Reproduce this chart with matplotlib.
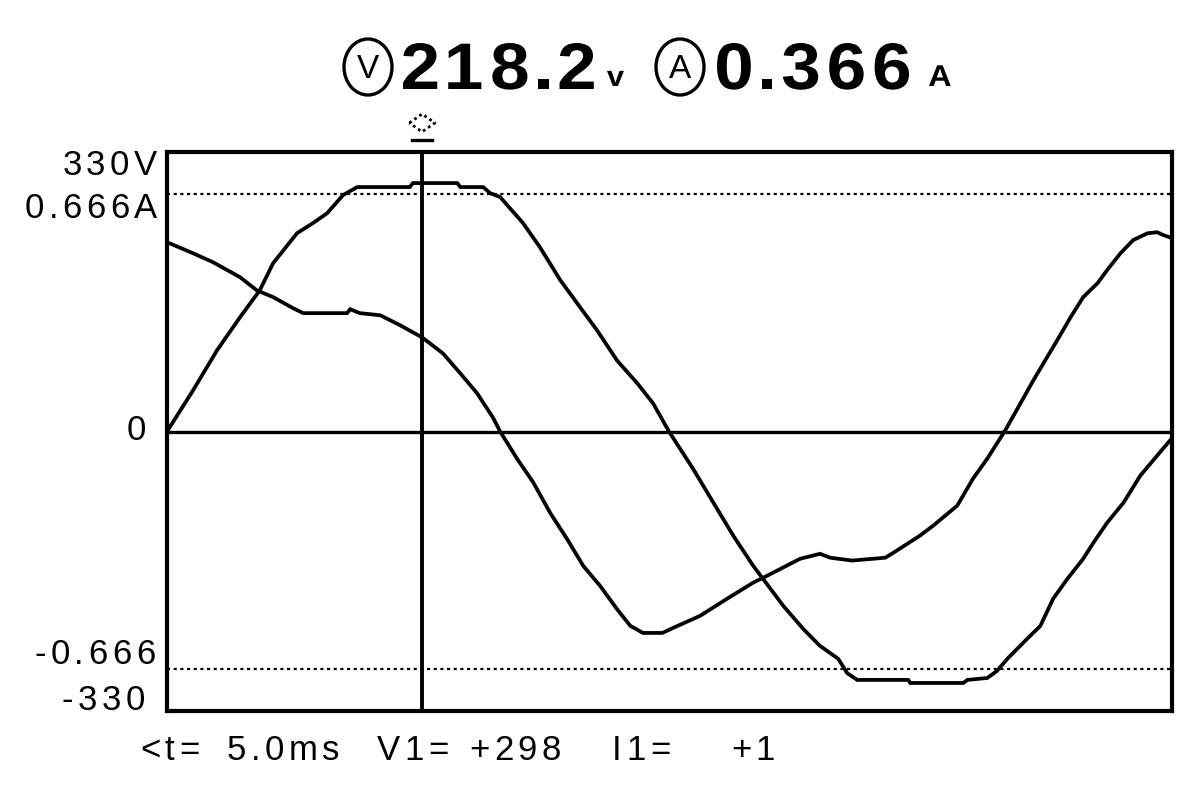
import matplotlib.pyplot as plt
from matplotlib.patches import Ellipse, PathPatch
from matplotlib.textpath import TextPath
from matplotlib.font_manager import FontProperties
from matplotlib.transforms import Affine2D, IdentityTransform, blended_transform_factory

# ---- scope readings (time in ms) ----
t_volt = [0.0, 0.51, 0.98, 1.43, 1.82, 2.08, 2.55, 2.86, 3.14, 3.45, 3.73, 4.76, 4.82,
          5.69, 5.75, 6.20, 6.33, 6.53, 6.98, 7.31, 7.71, 8.04, 8.43, 8.82, 9.22, 9.53,
          9.84, 10.31, 10.71, 11.10, 11.49, 12.08, 12.47, 12.80, 13.16, 13.33, 13.53,
          14.53, 14.57, 15.61, 15.69, 16.08, 16.27, 16.47, 16.86, 17.12, 17.37, 17.65,
          17.96, 18.16, 18.43, 18.75, 19.08, 19.41, 19.71]
volts = [0, 48.5, 95.8, 134.8, 166.8, 198.7, 234.2, 246.0, 257.8, 279.1, 288.6, 288.6, 293.3,
         293.3, 288.6, 288.6, 281.5, 276.8, 246.0, 217.6, 178.6, 151.4, 119.5, 84.0, 56.8, 33.1,
         0, -43.8, -84.0, -123.0, -158.5, -205.8, -233.0, -253.1, -268.5, -285.1, -293.3,
         -293.3, -296.9, -296.9, -293.3, -291.0, -282.7, -268.5, -244.8, -229.5, -197.5, -173.9,
         -150.2, -131.3, -107.6, -84.0, -52.0, -28.4, -7.1]

t_amp = [0.0, 0.51, 0.90, 1.43, 1.76, 2.08, 2.47, 2.67, 3.53, 3.59, 3.78, 4.18, 4.57, 5.00,
         5.41, 5.75, 6.08, 6.39, 6.53, 6.86, 7.18, 7.51, 7.84, 8.16, 8.49, 8.82, 9.08, 9.33,
         9.71, 9.92, 10.45, 10.98, 11.49, 11.69, 12.41, 12.80, 13.00, 13.43, 14.08, 14.24,
         14.76, 15.02, 15.49, 15.80, 16.08, 16.43, 16.73, 16.98, 17.25, 17.45, 17.71, 17.96,
         18.24, 18.43, 18.69, 18.94, 19.22, 19.41, 19.53, 19.71]
amps = [0.531, 0.500, 0.475, 0.433, 0.396, 0.377, 0.346, 0.332, 0.332, 0.343, 0.332, 0.326,
        0.298, 0.264, 0.219, 0.163, 0.107, 0.039, 0.0, -0.076, -0.143, -0.228, -0.301, -0.377,
        -0.433, -0.498, -0.545, -0.565, -0.565, -0.551, -0.517, -0.469, -0.424, -0.410, -0.357,
        -0.343, -0.354, -0.362, -0.354, -0.340, -0.292, -0.264, -0.208, -0.132, -0.076, 0.003,
        0.079, 0.143, 0.208, 0.256, 0.320, 0.377, 0.416, 0.453, 0.500, 0.537, 0.556, 0.559,
        0.551, 0.542]

v_full = 330
i_mark = 0.666
i_full = 0.784      # current scale so that 0.666 A sits on the dotted line
t_end = 19.7
cursor_t = 5.0

header_v = "218.2"
header_a = "0.366"
readout = ["<t=", "5.0ms", "V1=", "+298", "I1=", "+1"]

W, H = 1192, 789
FONT = ["Liberation Sans", "DejaVu Sans"]
BOLD = FontProperties(family=FONT, weight="bold")


def fx(px):
    return px / W


def fy(py):
    return 1 - py / H


fig = plt.figure(figsize=(W / 100, H / 100), dpi=100)
renderer = fig.canvas.get_renderer()


def spaced(x, y, s, gap, ha="left", **kw):
    # x, y in display pixels (origin bottom left); the scope font is set wide,
    # so draw glyph by glyph with extra gap
    parts = []
    for ch in s:
        t = fig.text(0, 0, ch, ha="left", va="baseline", **kw)
        parts.append((t, t.get_window_extent(renderer).width))
    total = sum(w for _, w in parts) + gap * (len(parts) - 1)
    cx = x - total if ha == "right" else x
    for t, w in parts:
        t.set_position((cx / W, y / H))
        cx += w + gap
    return cx


CAP0 = TextPath((0, 0), "0", size=100, prop=BOLD).get_extents().y1


def readout_big(x0, base, cap, s, widen=1.08, gap=11.0):
    # bold LCD readout, glyph by glyph (pixels from the top of the image)
    sy = cap / CAP0
    sx = sy * widen
    x = x0
    for ch in s:
        tp = TextPath((0, 0), ch, size=100, prop=BOLD)
        ext = tp.get_extents()
        tr = Affine2D().translate(-ext.x0, 0).scale(sx, sy).translate(x, H - base)
        fig.add_artist(PathPatch(tr.transform_path(tp), facecolor="black", lw=0,
                                 transform=IdentityTransform()))
        x += ext.width * sx + gap
    return x


ax = fig.add_axes([fx(167), fy(711), (1172 - 167) / W, (711 - 152) / H])
ax2 = ax.twinx()

ax.set_xlim(0, t_end)
ax.set_ylim(-v_full, v_full)
ax2.set_ylim(-i_full, i_full)
for a in (ax, ax2):
    a.set_xticks([])
    a.set_yticks([])
for s in ax.spines.values():
    s.set_linewidth(3)
for s in ax2.spines.values():
    s.set_visible(False)

ax.axhline(0, color="black", lw=2.4)
ax.axvline(cursor_t, color="black", lw=2.8)
for lvl in (i_mark, -i_mark):
    ax2.axhline(lvl, color="black", lw=1.6, linestyle=(0, (1.4, 1.6)))

ax.plot(t_volt, volts, color="black", lw=2.7, solid_joinstyle="miter")
ax2.plot(t_amp, amps, color="black", lw=2.7, solid_joinstyle="miter")

# left scale labels
small = dict(fontsize=25, family=FONT)
yv = lambda v: ax.transData.transform((0, v))[1]
yi = lambda i: ax2.transData.transform((0, i))[1]
spaced(157, yv(v_full) - 23, "330V", 4.5, ha="right", **small)
spaced(157, yi(i_mark) - 24, "0.666A", 4.5, ha="right", **small)
spaced(146, yv(0) - 9, "0", 4.5, ha="right", **small)
spaced(155, yi(-i_mark) + 5, "-0.666", 4.5, ha="right", **small)
spaced(145, yv(-v_full) + 1, "-330", 4.5, ha="right", **small)

# cursor marker above the frame
tr = blended_transform_factory(ax.transData, ax.transAxes)
dx = 0.25
ax.plot([cursor_t - dx, cursor_t, cursor_t + dx, cursor_t, cursor_t - dx],
        [1.052, 1.068, 1.052, 1.036, 1.052], transform=tr, clip_on=False,
        color="black", lw=2.0, linestyle=(0, (1, 1.2)))
ax.plot([cursor_t - 0.19, cursor_t + 0.19], [1.0215, 1.0215], transform=tr,
        clip_on=False, color="black", lw=2.4)

# header readout
for cx, letter in ((368, "V"), (680, "A")):
    fig.patches.append(Ellipse((fx(cx), fy(67)), 48 / W, 56 / H, transform=fig.transFigure,
                               fill=False, lw=2.4, color="black"))
    fig.text(fx(cx), fy(69), letter, ha="center", va="center", fontsize=24, family=FONT)
readout_big(403, 89, 46, header_v)
readout_big(607, 86, 20, "v")
readout_big(717, 89, 46, header_a)
readout_big(929, 86, 21, "A")

# cursor readout under the frame
for px, s in zip([140, 227, 377, 469, 612, 731], readout):
    spaced(px, H - 760, s, 4.5, **small)

fig.savefig("out.png", dpi=100, facecolor="white")
